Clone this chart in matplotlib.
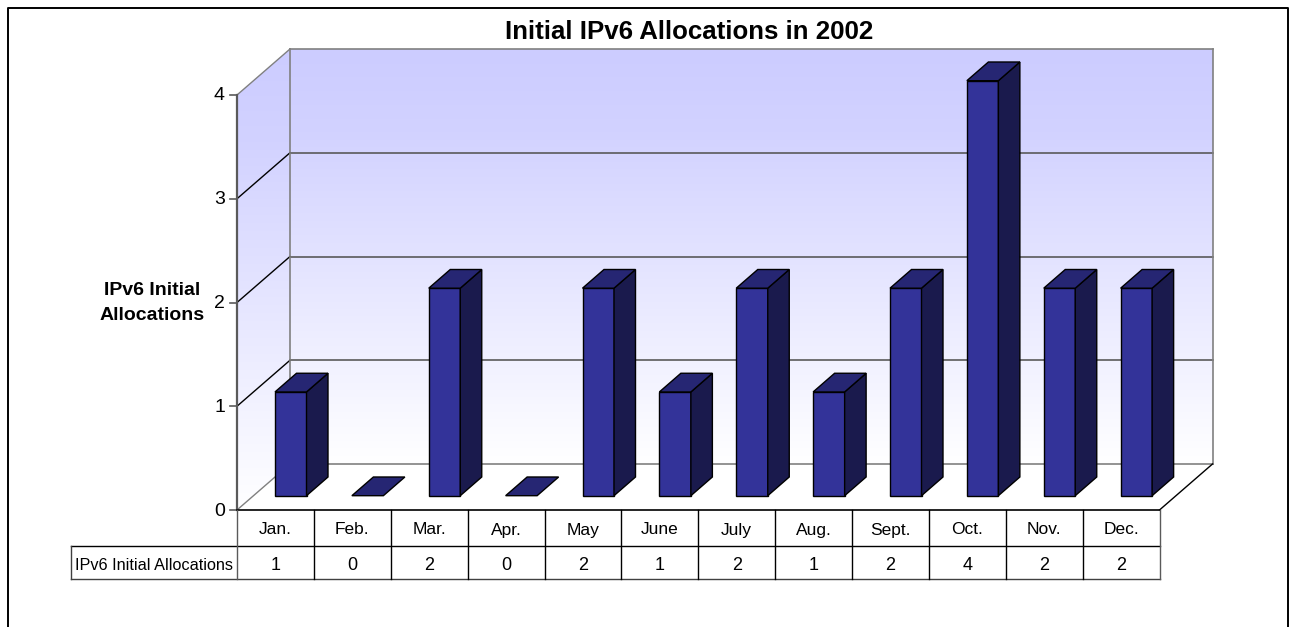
import numpy as np
import matplotlib
matplotlib.use("Agg")
import matplotlib.pyplot as plt
from matplotlib.colors import LinearSegmentedColormap
from matplotlib.lines import Line2D
from matplotlib.patches import Polygon

months = ["Jan.", "Feb.", "Mar.", "Apr.", "May", "June", "July", "Aug.", "Sept.", "Oct.", "Nov.", "Dec."]
allocations = [1, 0, 2, 0, 2, 1, 2, 1, 2, 4, 2, 2]
y_ticks = [0, 1, 2, 3, 4]
series_name = "IPv6 Initial Allocations"

W, H = 1289, 627
plt.rcParams["font.family"] = ["Liberation Sans", "DejaVu Sans"]

fig = plt.figure(figsize=(W / 100, H / 100), dpi=100)
# the axes is the front plane of the 3d box
ax = fig.add_axes([237 / W, (H - 510) / H, 922.5 / W, 415 / H])
ax.set_axis_off()

# 3d offsets, in data units
ux = 922.5 / 12
uy = 415 / 4
depth_x, depth_y = 53 / ux, 46 / uy
bar_dx, bar_dy = 21.5 / ux, 18.7 / uy
bar_left, bar_w, bar_base = 38 / ux, 31.5 / ux, 14.3 / uy
top = 4 + depth_y

grad = np.linspace(0, 1, 256).reshape(-1, 1)
cmap = LinearSegmentedColormap.from_list("wall", [(0, "#FFFFFF"), (0.8, "#D2D2FF"), (1, "#CCCCFF")], N=256)

# walls
wall = ax.imshow(grad, origin="lower", aspect="auto", cmap=cmap, zorder=1,
                 extent=(depth_x, 12 + depth_x, depth_y, top))
wall.set_clip_on(False)
side = ax.imshow(grad, origin="lower", aspect="auto", cmap=cmap, zorder=1,
                 extent=(0, depth_x, 0, top))
clip = Polygon([(0, 0), (depth_x, depth_y), (depth_x, top), (0, 4)], transform=ax.transData, fc="none", ec="none")
ax.add_patch(clip)
clip.set_clip_on(False)
side.set_clip_path(clip)
side.set_clip_box(fig.bbox)
ax.set_xlim(0, 12)
ax.set_ylim(0, 4)

grey = "#808080"
dark = "#5A5A5A"
# gridlines on the back wall and side wall
for v in y_ticks:
    ax.plot([depth_x, 12 + depth_x], [v + depth_y, v + depth_y], color=grey if v in (0, 4) else dark,
            lw=1.2, clip_on=False, zorder=2)
    ax.plot([0, depth_x], [v, v + depth_y], color=grey if v in (0, 4) else "black",
            lw=1, clip_on=False, zorder=2)
    ax.plot([-7 / ux, 0], [v, v], color=dark, lw=1.2, clip_on=False, zorder=2)
    ax.text(-12 / ux, v - 1 / uy, str(v), ha="right", va="center", fontsize=14, clip_on=False)
ax.plot([depth_x, depth_x], [depth_y, top], color=grey, lw=1.2, clip_on=False, zorder=2)
ax.plot([12 + depth_x, 12 + depth_x], [depth_y, top], color=grey, lw=1.2, clip_on=False, zorder=2)
ax.plot([0, 0], [0, 4], color=dark, lw=1.6, clip_on=False, zorder=2)
ax.plot([12, 12 + depth_x], [0, depth_y], color="black", lw=1, clip_on=False, zorder=2)

# floor
ax.add_patch(Polygon([(0, 0), (12, 0), (12 + depth_x, depth_y), (depth_x, depth_y)], fc="white", ec="none",
                     clip_on=False, zorder=1.5))

# bars
for i, v in enumerate(allocations):
    x0 = i + bar_left
    x1 = x0 + bar_w
    y0 = bar_base
    y1 = y0 + v
    if v > 0:
        ax.add_patch(Polygon([(x0, y0), (x1, y0), (x1, y1), (x0, y1)], fc="#333399", ec="black", lw=1,
                             clip_on=False, zorder=3))
        ax.add_patch(Polygon([(x1, y0), (x1 + bar_dx, y0 + bar_dy), (x1 + bar_dx, y1 + bar_dy), (x1, y1)],
                             fc="#1A1A4D", ec="black", lw=1, clip_on=False, zorder=3))
    ax.add_patch(Polygon([(x0, y1), (x1, y1), (x1 + bar_dx, y1 + bar_dy), (x0 + bar_dx, y1 + bar_dy)],
                         fc="#262673", ec="black", lw=1, clip_on=False, zorder=3))

# data table under the chart
row1 = -36 / uy
row2 = -68.5 / uy
head_x = -166 / ux
ax.plot([0, 12], [0, 0], color="black", lw=1.2, clip_on=False, zorder=4)
ax.plot([head_x, 12], [row1, row1], color="black", lw=1, clip_on=False, zorder=4)
ax.plot([head_x, 12], [row2, row2], color="#404040", lw=1, clip_on=False, zorder=4)
ax.plot([head_x, head_x], [row1, row2], color="#404040", lw=1, clip_on=False, zorder=4)
for i in range(13):
    ax.plot([i, i], [0, row2], color=dark if i in (0, 12) else "black", lw=1, clip_on=False, zorder=4)
text_drop = 3 / uy
for i, (m, v) in enumerate(zip(months, allocations)):
    ax.text(i + 0.5, row1 / 2 - 2 / uy, m, ha="center", va="center", fontsize=12.5, clip_on=False)
    ax.text(i + 0.5, (row1 + row2) / 2 - text_drop, str(v), ha="center", va="center", fontsize=13, clip_on=False)
ax.text(-4 / ux, (row1 + row2) / 2 - text_drop, series_name, ha="right", va="center", fontsize=11.7, clip_on=False)

# y title and main title
fig.text(152 / W, 1 - 303 / H, "IPv6 Initial\nAllocations", ha="center", va="center", fontsize=14,
         fontweight="bold", linespacing=1.65)
fig.text(689.5 / W, 1 - 32 / H, "Initial IPv6 Allocations in 2002", ha="center", va="center", fontsize=18.6,
         fontweight="bold")

# outer border, bottom edge is cropped off in the original
bx0, bx1 = 7.5 / W, 1288 / W
by = 1 - 7.5 / H
fig.add_artist(Line2D([bx0, bx0, bx1, bx1], [0, by, by, 0], color="black", lw=1.4))

fig.savefig("out.png", dpi=100)
